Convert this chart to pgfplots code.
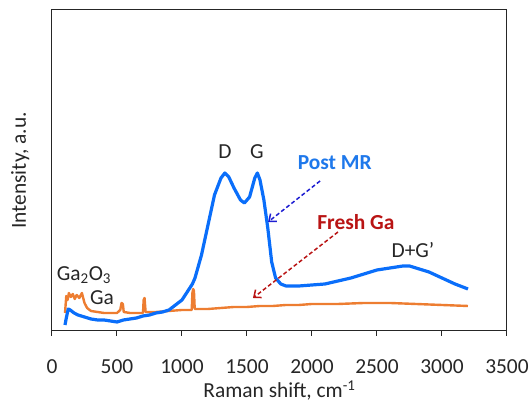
\documentclass[border=0pt]{standalone}
\usepackage{pgfplots}
\pgfplotsset{compat=1.18}
\usepackage{fontspec}
\setmainfont{Carlito}
\usetikzlibrary{arrows.meta}
\definecolor{bl}{RGB}{10,110,250}
\definecolor{orng}{RGB}{237,125,49}
\definecolor{arrb}{RGB}{30,30,210}
\definecolor{dred}{RGB}{185,20,20}
\definecolor{txtb}{RGB}{30,120,235}
\newcommand{\fs}{\fontsize{21.5}{25}\selectfont}
\begin{document}
\begin{tikzpicture}
\begin{axis}[name=ax,
  scale only axis, width=455bp, height=321bp,
  xmin=0, xmax=3500, ymin=0, ymax=321,
  xtick={0,500,...,3500}, ytick=\empty,
  tick align=outside, xtick pos=left, major tick length=5bp,
  axis line style={line width=1bp, black!85},
  every tick/.style={line width=1bp, black!85},
  /pgf/number format/assume math mode=true,
  /pgf/number format/set thousands separator={},
  tick label style={font=\fs, text=black!85},
  xticklabel style={anchor=center, yshift=-31bp},
  xlabel={Raman shift, cm\textsuperscript{-1}},
  ylabel={Intensity, a.u.},
  every axis x label/.style={at={(axis description cs:0.5,-0.186)}, anchor=center, font=\fs, text=black!85},
  every axis y label/.style={at={(axis description cs:-0.070,0.5)}, rotate=90, anchor=center, font=\fs, text=black!85},
  clip=false,
]
\addplot[orng, line width=2.4bp, line join=round] coordinates {
(100,18)(110,35)(120,31)(130,38)(145,34)(160,37)(175,32)(190,36)(210,33)(230,38)
(250,28)(270,23)(300,20)(350,19)(400,18)(450,18)(500,18)(525,21)(535,28)(545,27)(552,19)
(600,18)(650,18)(700,18)(705,31)(712,33)(720,19)(800,19)(900,20)(1000,21)(1075,21)
(1080,38)(1086,42)(1092,40)(1098,22)(1200,22)(1300,23)(1400,24)(1500,24)(1600,25)
(1700,25)(1800,26)(1900,26)(2000,27)(2200,27)(2400,28)(2600,28)(2800,27)(3000,26)(3200,25)
};
\addplot[bl, line width=3.2bp, line join=round] coordinates {
(100,6)(110,13)(125,22)(140,21)(170,18)(200,16)(250,14)(300,12)(350,11)(400,11)(450,10)
(500,9)(550,11)(600,12)(650,13)(700,15)(750,16)(800,18)(850,19)(900,21)(950,26)(1000,31)
(1050,41)(1080,47)(1100,53)(1150,76)(1200,106)(1250,136)(1300,153)(1330,158)(1360,154)
(1400,143)(1450,131)(1480,128)(1520,134)(1560,153)(1580,158)(1600,151)(1630,131)
(1660,103)(1690,69)(1720,53)(1760,47)(1800,45)(1900,45)(2000,46)(2100,47)(2200,50)
(2300,53)(2400,57)(2500,61)(2600,63)(2700,65)(2750,65)(2800,63)(2900,59)(3000,53)
(3100,47)(3200,42)
};
\node[font=\fs, text=black!85] at (axis cs:246,56) {Ga\textsubscript{2}O\textsubscript{3}};
\node[font=\fs, text=black!85] at (axis cs:385,33) {Ga};
\node[font=\fs, text=black!85] at (axis cs:1331,179) {D};
\node[font=\fs, text=black!85] at (axis cs:1577,179) {G};
\node[font=\fs\bfseries, text=txtb] at (axis cs:2175,168) {Post MR};
\node[font=\fs\bfseries, text=dred] at (axis cs:2338,109) {Fresh Ga};
\node[font=\fs, text=black!85] at (axis cs:2777,81) {D+G'};
\draw[arrb, line width=1.5bp, dash pattern=on 4bp off 2.5bp, -{Straight Barb[length=6bp,width=10bp]}] (axis cs:2062,150) -- (axis cs:1662,109);
\draw[dred, line width=1.5bp, dash pattern=on 4bp off 2.5bp, -{Straight Barb[length=6bp,width=10bp]}] (axis cs:2200,99) -- (axis cs:1546,33);
\end{axis}
\path ([xshift=-52bp,yshift=-73bp]ax.south west) rectangle ([xshift=25bp,yshift=10bp]ax.north east);
\end{tikzpicture}
\end{document}
